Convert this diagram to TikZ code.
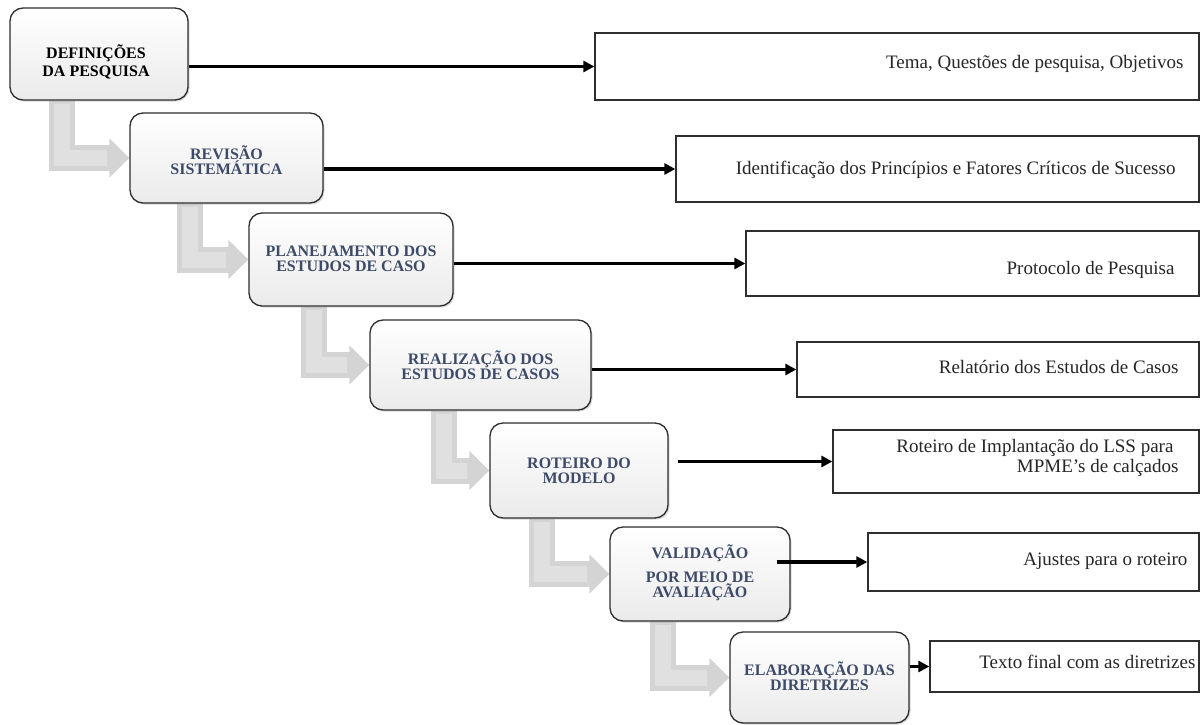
\documentclass[tikz,border=0pt]{standalone}
\usepackage{fontspec}
\setmainfont{Liberation Serif}
\usetikzlibrary{arrows.meta,calc,shadows}
\definecolor{stepink}{HTML}{3D4A68}
\definecolor{frame}{HTML}{2E2E2E}
\pgfdeclarelayer{bg}
\pgfsetlayers{bg,main}
\begin{document}
\begin{tikzpicture}[x=1pt,y=-1pt,
  stepbox/.style={draw=frame, line width=1.3pt, rounded corners=13pt,
    top color=white, middle color=white, bottom color=gray!16,
    drop shadow={shadow xshift=1.5pt, shadow yshift=-1.5pt, opacity=0.3},
    inner sep=0pt},
  steplabel/.style={font=\fontsize{16}{15}\selectfont\bfseries,
    text=stepink, align=center, inner sep=0pt},
  outbox/.style={draw=frame, line width=1.3pt, fill=white, inner sep=0pt},
  outlabel/.style={font=\fontsize{19}{20}\selectfont, text=black!85,
    align=right, inner sep=0pt},
  flow/.style={line width=3.4pt, -{Triangle[length=11pt,width=11pt]}},
  descend/.style={line width=26pt, draw=gray!34, line join=miter,
    -{Triangle[length=20pt,width=38pt]}},
  descendglow/.style={line width=16pt, draw=gray!24, line join=miter,
    shorten >=22pt},
]
\useasboundingbox (0,0) rectangle (1202,725);

% research steps
\node[stepbox, minimum width=178pt, minimum height=92pt] (s1) at (99,54) {};
\node[stepbox, minimum width=193pt, minimum height=90pt] (s2) at (226.5,158) {};
\node[stepbox, minimum width=204pt, minimum height=93pt] (s3) at (351,259.5) {};
\node[stepbox, minimum width=221pt, minimum height=90pt] (s4) at (480.5,365) {};
\node[stepbox, minimum width=178pt, minimum height=95pt] (s5) at (579,470.5) {};
\node[stepbox, minimum width=180pt, minimum height=94pt] (s6) at (700,574) {};
\node[stepbox, minimum width=179pt, minimum height=91pt] (s7) at (819.5,677.5) {};

\node[steplabel, text=black, font=\fontsize{16}{17.5}\selectfont\bfseries]
  (l1) at ($(s1.center)+(-3,8)$) {DEFINIÇÕES\\DA PESQUISA};
\node[steplabel] (l2) at ($(s2.center)+(0,2)$) {REVISÃO\\SISTEMÁTICA};
\node[steplabel] (l3) at ($(s3.center)+(0,-1)$) {PLANEJAMENTO DOS\\ESTUDOS DE CASO};
\node[steplabel] (l4) at (s4.center) {REALIZAÇÃO DOS\\ESTUDOS DE CASOS};
\node[steplabel] (l5) at (s5.center) {ROTEIRO DO\\MODELO};
\node[steplabel] (l6) at ($(s6.center)+(0,-1)$) {VALIDAÇÃO\\[9pt]POR MEIO DE\\AVALIAÇÃO};
\node[steplabel] (l7) at ($(s7.center)+(0,-1)$) {ELABORAÇÃO DAS\\DIRETRIZES};

% products of each step
\node[outbox, minimum width=604pt, minimum height=67pt] (o1) at (897,66.5) {};
\node[outbox, minimum width=523pt, minimum height=66pt] (o2) at (937.5,169) {};
\node[outbox, minimum width=453pt, minimum height=65pt] (o3) at (972.5,263.5) {};
\node[outbox, minimum width=402pt, minimum height=55pt] (o4) at (998,369.5) {};
\node[outbox, minimum width=366pt, minimum height=63pt] (o5) at (1016,461.5) {};
\node[outbox, minimum width=331pt, minimum height=58pt] (o6) at (1033.5,562) {};
\node[outbox, minimum width=269pt, minimum height=51pt] (o7) at (1064.5,666.5) {};

\node[outlabel, anchor=base east] (p1) at ($(o1.east)+(-16,2.5)$) {Tema, Questões de pesquisa, Objetivos};
\node[outlabel, anchor=base east] (p2) at ($(o2.east)+(-24,5)$) {Identificação dos Princípios e Fatores Críticos de Sucesso};
\node[outlabel, anchor=base east] (p3) at ($(o3.east)+(-25,10.5)$) {Protocolo de Pesquisa};
\node[outlabel, anchor=base east] (p4) at ($(o4.east)+(-21,3.5)$) {Relatório dos Estudos de Casos};
\node[outlabel, anchor=east] (p5) at ($(o5.east)+(-21,-4)$) {Roteiro de Implantação do LSS para\hspace*{5pt}\\MPME’s de calçados};
\node[outlabel, anchor=base east] (p6) at ($(o6.east)+(-12,3)$) {Ajustes para o roteiro};
\node[outlabel, anchor=base east] (p7) at ($(o7.east)+(-4,1.5)$) {Texto final com as diretrizes};

% step -> product connectors
\draw[flow] (s1.east |- o1.west) -- (o1.west);
\draw[flow] (s2.east |- o2.west) -- (o2.west);
\draw[flow] (s3.east |- o3.west) -- (o3.west);
\draw[flow] (s4.east |- o4.west) -- (o4.west);
\draw[flow] ([xshift=9pt]s5.east |- o5.west) -- (o5.west);
\draw[flow] ([xshift=-14pt]s6.east |- o6.west) -- (o6.west);
\draw[flow] (s7.east |- o7.west) -- (o7.west);

% broad grey arrows leading from one step down to the next
\begin{pgfonlayer}{bg}
  \fill[white] (0,0) rectangle (1202,725);
  \foreach \a/\b in {s1/s2, s2/s3, s3/s4, s4/s5, s5/s6, s6/s7} {
    \coordinate (d-\a) at ($(\a.south)+(-37,0)$);
    \draw[descend] (d-\a) |- (\b.west);
    \draw[descendglow] ($(d-\a)+(0,3)$) |- (\b.west);
  }
\end{pgfonlayer}
\end{tikzpicture}
\end{document}
